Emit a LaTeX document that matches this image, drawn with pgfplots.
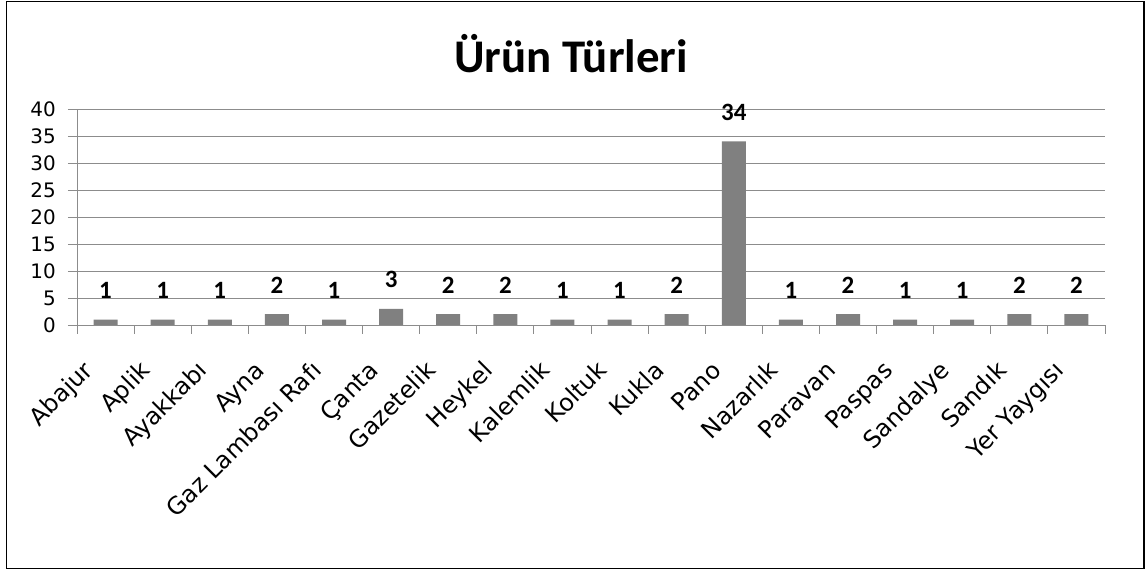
\documentclass[border=0pt]{standalone}
\usepackage{fontspec}
\setmainfont{Carlito}
\newfontfamily\dejavu{DejaVu Sans}
\usepackage{pgfplots}
\pgfplotsset{compat=1.18}
\definecolor{axisgray}{HTML}{8C8C8C}
\definecolor{bargray}{HTML}{808080}
\begin{document}
\begin{tikzpicture}[x=1bp,y=1bp]
\useasboundingbox (0,0) rectangle (1146,570);
\draw[black, line width=1.3bp] (6.5,1.5) rectangle (1144,568.5);
\node[font=\bfseries\fontsize{47}{54}\selectfont, anchor=base] at (571,497) {Ürün Türleri};
\begin{axis}[
  at={(77bp,245bp)}, anchor=south west,
  scale only axis, width=1028bp, height=216bp,
  xmin=-0.5, xmax=17.5, ymin=0, ymax=40,
  /pgf/number format/assume math mode=true,
  ytick={0,5,10,15,20,25,30,35,40},
  xtick={-0.5,0.5,1.5,2.5,3.5,4.5,5.5,6.5,7.5,8.5,9.5,10.5,11.5,12.5,13.5,14.5,15.5,16.5,17.5},
  x tick label as interval,
  xticklabels={Abajur,Aplik,Ayakkabı,Ayna,Gaz Lambası Rafı,Çanta,Gazetelik,Heykel,Kalemlik,Koltuk,Kukla,Pano,Nazarlık,Paravan,Paspas,Sandalye,Sandık,Yer Yaygısı},
  axis x line*=bottom, axis y line*=left,
  axis line style={draw=axisgray, line width=0.9bp, -},
  ymajorgrids, xmajorgrids=false,
  grid style={draw=axisgray, line width=0.9bp},
  tick align=outside, major tick length=9bp,
  tick style={draw=axisgray, line width=0.9bp},
  yticklabel style={font=\dejavu\fontsize{20}{24}\selectfont, anchor=east, inner sep=0pt, xshift=-12bp},
  xticklabel style={font=\dejavu\fontsize{24}{28}\selectfont, xshift=-11bp, yshift=-38bp, rotate=45, anchor=base east, inner sep=0pt},
  ybar, bar width=24bp,
  nodes near coords,
  every node near coord/.append style={font=\bfseries\fontsize{25}{30}\selectfont, anchor=base, inner sep=0pt, yshift=21bp, black},
]
\addplot[fill=bargray, draw=none] coordinates {
(0,1) (1,1) (2,1) (3,2) (4,1) (5,3) (6,2) (7,2) (8,1) (9,1) (10,2) (11,34) (12,1) (13,2) (14,1) (15,1) (16,2) (17,2)
};
\end{axis}
\end{tikzpicture}
\end{document}
